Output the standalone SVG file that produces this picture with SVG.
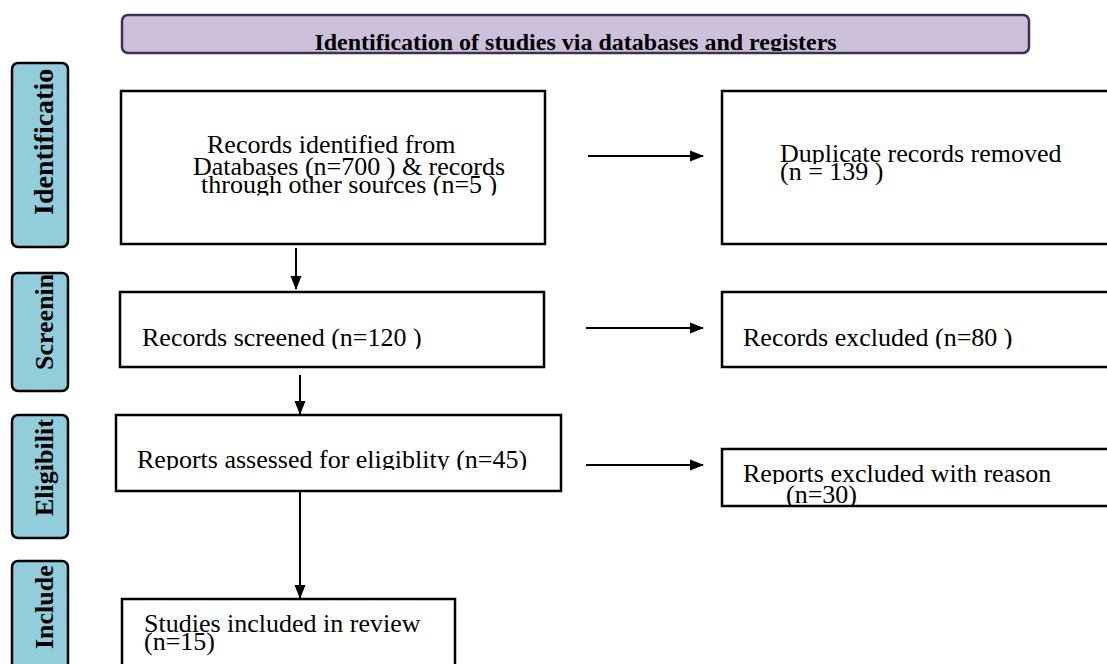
<svg xmlns="http://www.w3.org/2000/svg" width="1107" height="664" viewBox="0 0 1107 664">
<style>
.box{fill:#ffffff;stroke:#000000;stroke-width:2.5}
.side{fill:#92cddc;stroke:#000000;stroke-width:2.5}
.hdr{fill:#ccc0da;stroke:#3f3151;stroke-width:2.5}
.t{font-family:"Liberation Serif","Times New Roman",serif;font-size:26px;fill:#000}
.st{font-family:"Liberation Serif","Times New Roman",serif;font-size:26px;font-weight:bold;fill:#000}
.ht{font-family:"Liberation Serif","Times New Roman",serif;font-size:24px;font-weight:bold;fill:#000}
.c{stroke:#000;stroke-width:2;fill:none}
</style>
<defs>
<marker id="ah" markerUnits="userSpaceOnUse" markerWidth="14" markerHeight="12" refX="13" refY="6" orient="auto">
<path d="M0,0.5 L14,6 L0,11.5 z" fill="#000"/>
</marker>
<clipPath id="cHdr"><rect x="0" y="0" width="1107" height="51"/></clipPath>
<clipPath id="cS1"><rect x="0" y="66" width="1107" height="180"/></clipPath>
<clipPath id="cS2"><rect x="0" y="275" width="1107" height="115"/></clipPath>
<clipPath id="cS3"><rect x="0" y="417" width="1107" height="120"/></clipPath>
<clipPath id="cS4"><rect x="0" y="563" width="1107" height="110"/></clipPath>
<clipPath id="cB1"><rect x="0" y="0" width="1107" height="195.5"/></clipPath>
<clipPath id="cD1"><rect x="0" y="0" width="1107" height="164"/></clipPath>
<clipPath id="cD2"><rect x="0" y="0" width="1107" height="185"/></clipPath>
<clipPath id="cSc"><rect x="0" y="0" width="1107" height="349"/></clipPath>
<clipPath id="cRa"><rect x="0" y="0" width="1107" height="470"/></clipPath>
<clipPath id="cRe1"><rect x="0" y="0" width="1107" height="484"/></clipPath>
<clipPath id="cRe2"><rect x="0" y="0" width="1107" height="505"/></clipPath>
<clipPath id="cSt1"><rect x="0" y="0" width="1107" height="634"/></clipPath>
<clipPath id="cSt2"><rect x="0" y="0" width="1107" height="656"/></clipPath>
</defs>

<g id="header">
<rect class="hdr" x="122" y="15" width="907" height="38" rx="6"/>
<g clip-path="url(#cHdr)"><text class="ht" x="575.5" y="50" text-anchor="middle">Identification of studies via databases and registers</text></g>
</g>

<g id="stage-identification">
<rect class="side" x="12" y="63" width="56" height="184" rx="6"/>
<g clip-path="url(#cS1)"><text class="st" style="font-size:28px" transform="translate(53,215) rotate(-90)">Identificatio</text></g>
</g>
<g id="stage-screening">
<rect class="side" x="12" y="273" width="56" height="118" rx="6"/>
<g clip-path="url(#cS2)"><text class="st" transform="translate(53,370) rotate(-90)">Screenin</text></g>
</g>
<g id="stage-eligibility">
<rect class="side" x="12" y="415" width="56" height="123" rx="6"/>
<g clip-path="url(#cS3)"><text class="st" transform="translate(53,516) rotate(-90)">Eligibilit</text></g>
</g>
<g id="stage-included">
<rect class="side" x="12" y="561" width="56" height="120" rx="6"/>
<g clip-path="url(#cS4)"><text class="st" transform="translate(53,649) rotate(-90)">Include</text></g>
</g>

<g id="node-identified">
<rect class="box" x="121" y="91" width="424" height="153"/>
<text class="t" x="207" y="153">Records identified from</text>
<text class="t" x="193" y="175">Databases (n=700 ) &amp; records</text>
<g clip-path="url(#cB1)"><text class="t" x="201" y="193">through other sources (n=5 )</text></g>
</g>

<g id="node-duplicates">
<rect class="box" x="722" y="91" width="400" height="153"/>
<g clip-path="url(#cD1)"><text class="t" x="780" y="162">Duplicate records removed</text></g>
<g clip-path="url(#cD2)"><text class="t" x="780" y="180">(n = 139 )</text></g>
</g>

<g id="node-screened">
<rect class="box" x="120" y="292" width="424" height="75"/>
<g clip-path="url(#cSc)"><text class="t" x="142" y="346">Records screened (n=120 )</text></g>
</g>

<g id="node-excluded">
<rect class="box" x="722" y="292" width="400" height="75"/>
<g clip-path="url(#cSc)"><text class="t" x="743" y="346">Records excluded (n=80 )</text></g>
</g>

<g id="node-assessed">
<rect class="box" x="116" y="415" width="445" height="76"/>
<g clip-path="url(#cRa)"><text class="t" x="137" y="468">Reports assessed for eligiblity (n=45)</text></g>
</g>

<g id="node-reports-excluded">
<rect class="box" x="722" y="449" width="400" height="57"/>
<g clip-path="url(#cRe1)"><text class="t" x="743" y="482">Reports excluded with reason</text></g>
<g clip-path="url(#cRe2)"><text class="t" x="786" y="503">(n=30)</text></g>
</g>

<g id="node-included">
<rect class="box" x="122" y="599" width="333" height="80"/>
<g clip-path="url(#cSt1)"><text class="t" x="144" y="632">Studies included in review</text></g>
<g clip-path="url(#cSt2)"><text class="t" x="144" y="650">(n=15)</text></g>
</g>

<g id="connectors">
<line class="c" x1="588" y1="156" x2="703" y2="156" marker-end="url(#ah)"/>
<line class="c" x1="586" y1="328" x2="703" y2="328" marker-end="url(#ah)"/>
<line class="c" x1="586" y1="465" x2="703" y2="465" marker-end="url(#ah)"/>
<line class="c" x1="296" y1="248" x2="296" y2="289" marker-end="url(#ah)" stroke-width="2.5"/>
<line class="c" x1="300" y1="375" x2="300" y2="414" marker-end="url(#ah)" stroke-width="2.5"/>
<line class="c" x1="300" y1="491" x2="300" y2="598" marker-end="url(#ah)" stroke-width="2.5"/>
</g>
</svg>
